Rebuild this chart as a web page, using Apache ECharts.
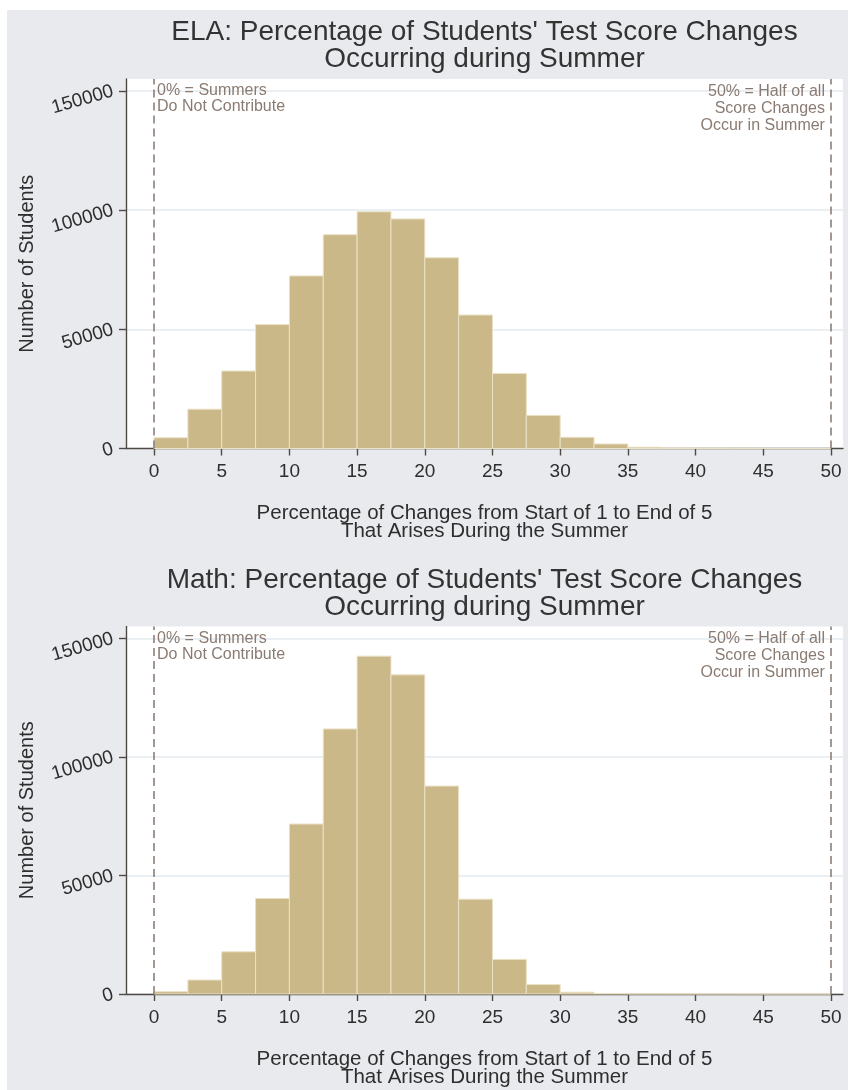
<!DOCTYPE html>
<html>
<head>
<meta charset="utf-8">
<script src="https://cdn.jsdelivr.net/npm/echarts@6/dist/echarts.min.js"></script>
<style>
  html, body { margin: 0; padding: 0; background: #ffffff; }
  #chart { width: 848px; height: 1090px; }
</style>
</head>
<body>
<div id="chart"></div>
<script>
// Histogram bins: lower edge of each 2.5-point bin
const binStarts = [0, 2.5, 5, 7.5, 10, 12.5, 15, 17.5, 20, 22.5, 25, 27.5, 30, 32.5, 35, 37.5, 40, 42.5, 45, 47.5];
const binWidth = 2.5;

// Number of students per bin
const elaCounts = [4500, 16500, 32500, 52000, 72400, 89700, 99300, 96300, 80000, 56000, 31500, 13900, 4700, 1900, 550, 220, 120, 80, 60, 40];
const mathCounts = [1000, 5900, 17800, 40300, 71700, 111800, 142500, 134600, 87700, 40000, 14600, 4000, 750, 200, 90, 60, 40, 30, 25, 20];

// Axis ticks
const xTicks = [0, 5, 10, 15, 20, 25, 30, 35, 40, 45, 50];
const yTicks = [0, 50000, 100000, 150000];

// Reference lines and their notes
const refLines = [0, 50];
const leftNote = '0% = Summers\nDo Not Contribute';
const rightNote = '50% = Half of all\nScore Changes\nOccur in Summer';

const panelTitles = [
  "ELA: Percentage of Students' Test Score Changes\nOccurring during Summer",
  "Math: Percentage of Students' Test Score Changes\nOccurring during Summer"
];
const xTitle = 'Percentage of Changes from Start of 1 to End of 5\nThat Arises During the Summer';
const yTitle = 'Number of Students';

const FONT = '"Liberation Sans", Arial, Helvetica, sans-serif';
const AXIS_COLOR = '#4f4a45';
const NOTE_COLOR = '#8a7b72';
const BAR_FILL = '#cbb888';
const BAR_EDGE = '#ebe1c6';

const panels = [
  { counts: elaCounts, top: 79, height: 369.5 },
  { counts: mathCounts, top: 626.5, height: 367.5 }
];
const gridLeft = 126, gridWidth = 717;
const xMin = -2.07, xMax = 50.89, yMax = 155000;

function renderBin(params, api) {
  const p0 = api.coord([api.value(0), api.value(2)]);
  const p1 = api.coord([api.value(1), 0]);
  return {
    type: 'rect',
    shape: { x: p0[0], y: p0[1], width: p1[0] - p0[0], height: p1[1] - p0[1] },
    style: { fill: BAR_FILL, stroke: BAR_EDGE, lineWidth: 1 }
  };
}

const chart = echarts.init(document.getElementById('chart'), null, { renderer: 'canvas' });

const option = {
  animation: false,
  backgroundColor: '#ffffff',
  textStyle: { fontFamily: FONT },
  grid: panels.map(p => ({
    left: gridLeft, top: p.top, width: gridWidth, height: p.height,
    show: true, backgroundColor: '#ffffff', borderWidth: 0
  })),
  xAxis: panels.map((p, i) => ({
    type: 'value', gridIndex: i, min: xMin, max: xMax,
    axisLine: { show: true, onZero: false, lineStyle: { color: AXIS_COLOR, width: 1.4 } },
    axisTick: { show: true, customValues: xTicks, length: 7, lineStyle: { color: AXIS_COLOR, width: 1.4 } },
    axisLabel: { customValues: xTicks, fontSize: 19, color: '#2e2e2e', margin: 14, fontFamily: FONT },
    splitLine: { show: false },
    name: xTitle, nameLocation: 'middle', nameGap: 56,
    nameTextStyle: { fontSize: 20.5, lineHeight: 18, color: '#2e2e2e', fontFamily: FONT, verticalAlign: 'top' }
  })),
  yAxis: panels.map((p, i) => ({
    type: 'value', gridIndex: i, min: 0, max: yMax,
    axisLine: { show: true, onZero: false, lineStyle: { color: AXIS_COLOR, width: 1.4 } },
    axisTick: { show: true, customValues: yTicks, length: 7, lineStyle: { color: AXIS_COLOR, width: 1.4 } },
    axisLabel: {
      customValues: yTicks, fontSize: 19, color: '#2e2e2e', margin: 13, rotate: 16, fontFamily: FONT,
      formatter: v => String(v)
    },
    splitLine: { show: true, lineStyle: { color: '#e3eaf1', width: 1.5 } },
    name: yTitle, nameLocation: 'middle', nameGap: 89, nameRotate: 90,
    nameTextStyle: { fontSize: 20, color: '#2e2e2e', fontFamily: FONT }
  })),
  series: panels.map((p, i) => ({
    type: 'custom', xAxisIndex: i, yAxisIndex: i,
    renderItem: renderBin,
    encode: { x: [0, 1], y: 2 },
    data: binStarts.map((s, k) => [s, s + binWidth, p.counts[k]]),
    markLine: {
      silent: true, symbol: 'none',
      label: { show: false },
      lineStyle: { type: [8, 5], color: '#8c7f79', width: 1.6 },
      data: refLines.map(v => ({ xAxis: v }))
    }
  }))
};

chart.setOption(option);

// Backdrop, panel titles and reference-line notes
const graphics = [{
  type: 'rect', z: -100, silent: true,
  shape: { x: 7, y: 10, width: 848, height: 1090 },
  style: { fill: '#e8eaed' }
}];

panels.forEach((p, i) => {
  const topLeft = chart.convertToPixel({ gridIndex: i }, [refLines[0], yMax]);
  const topRight = chart.convertToPixel({ gridIndex: i }, [refLines[1], yMax]);
  const plotMidX = gridLeft + gridWidth / 2;
  graphics.push({
    type: 'text', z: 10, silent: true,
    style: {
      text: panelTitles[i], x: plotMidX, y: topLeft[1] - 60,
      align: 'center', verticalAlign: 'top',
      font: '28px ' + FONT, lineHeight: 27, fill: '#333333'
    }
  });
  graphics.push({
    type: 'text', z: 10, silent: true,
    style: {
      text: leftNote, x: topLeft[0] + 3, y: topLeft[1] + 4,
      align: 'left', verticalAlign: 'top',
      font: '16px ' + FONT, lineHeight: 16, fill: NOTE_COLOR
    }
  });
  graphics.push({
    type: 'text', z: 10, silent: true,
    style: {
      text: rightNote, x: topRight[0] - 6, y: topRight[1] + 4,
      align: 'right', verticalAlign: 'top',
      font: '16px ' + FONT, lineHeight: 17, fill: NOTE_COLOR
    }
  });
});

chart.setOption({ graphic: graphics });
</script>
</body>
</html>
